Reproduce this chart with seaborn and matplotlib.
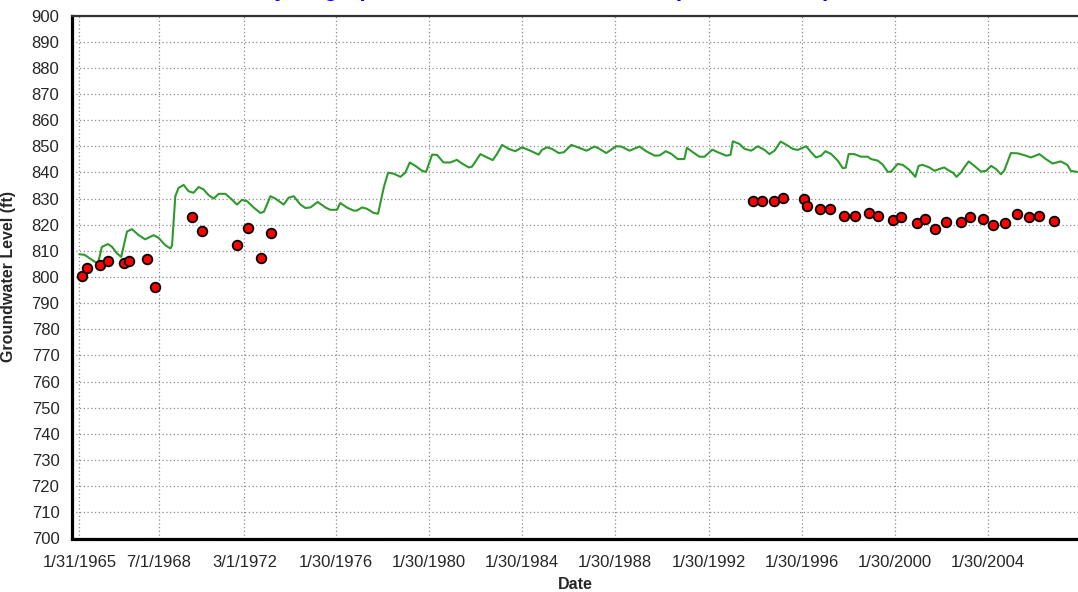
import numpy as np
import pandas as pd
import matplotlib
matplotlib.use("Agg")
import matplotlib.pyplot as plt
import matplotlib.dates as mdates
import seaborn as sns

# simulated head (green line), decimal year / ft
sim_year = [1965.08, 1965.30, 1965.77, 1965.88, 1966.05, 1966.31, 1966.48, 1966.70, 1966.88,
            1967.13, 1967.34, 1967.63, 1967.91, 1968.27, 1968.48, 1968.77, 1968.99, 1969.06,
            1969.20, 1969.34, 1969.56, 1969.77, 1969.98, 1970.20, 1970.41, 1970.63, 1970.85,
            1971.06, 1971.35, 1971.63, 1971.85, 1972.06, 1972.28, 1972.56, 1972.85, 1973.00,
            1973.28, 1973.49, 1973.85, 1974.06, 1974.28, 1974.57, 1974.78, 1975.00, 1975.31,
            1975.64, 1975.85, 1976.14, 1976.28, 1976.56, 1976.85, 1976.99, 1977.21, 1977.42,
            1977.71, 1977.90, 1978.14, 1978.33, 1978.57, 1978.86, 1979.07, 1979.26, 1979.50,
            1979.79, 1979.96, 1980.22, 1980.43, 1980.71, 1981.00, 1981.28, 1981.50, 1981.79,
            1981.93, 1982.29, 1982.58, 1982.82, 1983.00, 1983.22, 1983.50, 1983.79, 1984.08,
            1984.43, 1984.79, 1984.93, 1985.15, 1985.36, 1985.65, 1985.87, 1986.19, 1986.47,
            1986.84, 1987.19, 1987.40, 1987.69, 1988.12, 1988.33, 1988.69, 1989.12, 1989.40,
            1989.77, 1989.98, 1990.24, 1990.48, 1990.76, 1991.04, 1991.15, 1991.41, 1991.69,
            1991.91, 1992.24, 1992.48, 1992.84, 1993.02, 1993.12, 1993.40, 1993.62, 1993.91,
            1994.19, 1994.48, 1994.69, 1994.91, 1995.17, 1995.41, 1995.69, 1995.91, 1996.27,
            1996.48, 1996.69, 1996.91, 1997.09, 1997.33, 1997.62, 1997.84, 1997.96, 1998.09,
            1998.33, 1998.62, 1998.91, 1999.05, 1999.34, 1999.55, 1999.77, 1999.91, 2000.19,
            2000.41, 2000.69, 2000.95, 2001.09, 2001.26, 2001.55, 2001.77, 2001.98, 2002.19,
            2002.41, 2002.55, 2002.72, 2002.91, 2003.05, 2003.24, 2003.48, 2003.77, 2003.99,
            2004.20, 2004.41, 2004.62, 2004.76, 2005.05, 2005.34, 2005.62, 2005.91, 2006.27,
            2006.55, 2006.84, 2007.19, 2007.47, 2007.62, 2007.89]
sim_head = [808.7, 808.5, 805.7, 805.2, 811.5, 812.6, 811.6, 809.0, 807.7,
            817.4, 818.3, 816.0, 814.4, 816.0, 815.0, 812.2, 810.9, 812.0,
            830.9, 834.1, 835.2, 832.8, 832.2, 834.4, 833.5, 831.3, 830.0,
            831.8, 831.8, 829.6, 827.7, 829.5, 829.0, 826.6, 824.5, 824.9,
            830.9, 830.0, 827.7, 830.3, 830.9, 827.7, 826.4, 826.6, 828.7,
            826.6, 825.7, 825.7, 828.3, 826.6, 825.4, 825.4, 826.6, 826.1,
            824.5, 824.2, 834.1, 839.9, 839.5, 838.3, 839.9, 843.8, 842.5,
            840.6, 840.2, 846.8, 846.7, 843.8, 843.8, 844.8, 843.4, 841.9,
            842.2, 847.0, 845.7, 844.7, 847.0, 850.5, 849.0, 848.1, 849.6,
            848.3, 846.8, 848.6, 849.6, 849.0, 847.4, 847.7, 850.5, 849.6,
            848.3, 849.9, 849.0, 847.4, 850.0, 849.9, 848.3, 849.9, 848.1,
            846.4, 846.5, 848.1, 847.1, 845.1, 845.1, 849.4, 847.7, 846.0,
            846.0, 848.7, 847.7, 846.4, 846.7, 851.9, 850.9, 849.0, 848.3,
            850.0, 848.6, 847.0, 848.3, 851.8, 850.6, 849.0, 848.6, 850.0,
            847.7, 845.7, 846.4, 848.1, 847.1, 844.5, 841.6, 841.8, 847.0,
            847.0, 846.0, 846.0, 845.1, 844.5, 843.0, 840.2, 840.3, 843.2,
            842.9, 841.0, 838.3, 842.5, 842.9, 841.9, 840.6, 841.3, 841.9,
            840.6, 840.0, 838.3, 840.0, 841.9, 844.2, 842.5, 840.3, 840.6,
            842.5, 841.3, 839.3, 840.6, 847.4, 847.3, 846.6, 845.7, 847.0,
            845.1, 843.4, 844.2, 842.9, 840.6, 840.2]

# observed head (red points)
obs_year = [1965.19, 1965.41, 1965.98, 1966.31, 1966.98, 1967.20, 1967.97, 1968.31,
            1969.90, 1970.33, 1971.83, 1972.33, 1972.88, 1973.29,
            1993.98, 1994.38, 1994.88, 1995.28, 1996.18, 1996.32, 1996.88, 1997.29,
            1997.91, 1998.38, 1998.95, 1999.37, 2000.00, 2000.34, 2001.02, 2001.38,
            2001.78, 2002.27, 2002.89, 2003.31, 2003.87, 2004.27, 2004.81, 2005.32,
            2005.81, 2006.27, 2006.92]
obs_head = [800.3, 803.5, 804.7, 806.0, 805.5, 806.1, 806.8, 796.2,
            822.8, 817.4, 812.3, 818.6, 807.4, 816.7,
            829.1, 829.1, 829.1, 830.4, 829.7, 827.3, 826.0, 826.0,
            823.5, 823.5, 824.3, 823.5, 821.7, 822.9, 820.5, 822.3,
            818.5, 821.1, 821.2, 822.9, 822.3, 819.7, 820.5, 824.2,
            822.8, 823.4, 821.6]

tick_dates = ["1965-01-31", "1968-07-01", "1972-03-01", "1976-01-30", "1980-01-30",
              "1984-01-30", "1988-01-30", "1992-01-30", "1996-01-30", "2000-01-30",
              "2004-01-30"]
tick_labels = ["1/31/1965", "7/1/1968", "3/1/1972", "1/30/1976", "1/30/1980",
               "1/30/1984", "1/30/1988", "1/30/1992", "1/30/1996", "1/30/2000",
               "1/30/2004"]


def to_date(y):
    y = np.asarray(y, dtype=float)
    yr = np.floor(y).astype(int)
    return pd.to_datetime([f"{a}-01-01" for a in yr]) + pd.to_timedelta((y - yr) * 365.25, unit="D")


sim = pd.DataFrame({"date": to_date(sim_year), "head": sim_head})
obs = pd.DataFrame({"date": to_date(obs_year), "head": obs_head})

sns.set_style("white")
plt.rcParams["font.family"] = ["Liberation Sans", "DejaVu Sans"]

fig = plt.figure(figsize=(10.78, 5.92), dpi=100)
ax = fig.add_axes([72 / 1078, 1 - 538.5 / 592, 1 - 72 / 1078, 523 / 592])

sns.lineplot(data=sim, x="date", y="head", color="#2e9a2e", linewidth=1.5, ax=ax, zorder=3)
sns.scatterplot(data=obs, x="date", y="head", color="#ff0000", edgecolor="black",
                linewidth=1.3, s=48, ax=ax, zorder=4)

ax.set_ylim(700, 900)
ax.set_xlim(to_date([1964.77])[0], to_date([2007.93])[0])

ticks = pd.to_datetime(tick_dates)
ax.set_xticks(ticks)
ax.set_xticklabels(tick_labels)
tn = mdates.date2num(ticks)
minor = []
for a, b in zip(tn[:-1], tn[1:]):
    minor += [a + (b - a) * k / 4 for k in (1, 2, 3)]
step = (tn[1] - tn[0]) / 4
minor += [tn[-1] + step * k for k in (1, 2, 3, 4)]
ax.set_xticks(minor, minor=True)

ax.set_yticks(np.arange(700, 901, 10))
ax.set_yticks(np.arange(700, 901, 2), minor=True)

ax.grid(True, which="major", color="#8c8c8c", linestyle=(0, (1, 2)), linewidth=0.9)
ax.tick_params(axis="both", which="major", direction="out", length=5, width=1,
               color="#555555", labelsize=12, pad=4)
ax.tick_params(axis="both", which="minor", direction="out", length=4, width=1,
               color="#777777")
ax.tick_params(axis="x", which="major", pad=7)

for s in ("left", "bottom"):
    ax.spines[s].set_color("black")
    ax.spines[s].set_linewidth(2.3)
ax.spines["top"].set_color("#333333")
ax.spines["top"].set_linewidth(1.6)
ax.spines["right"].set_visible(False)

ax.set_xlabel("Date", fontsize=11.5, fontweight="bold")
ax.set_ylabel("Groundwater Level (ft)", fontsize=11.5, fontweight="bold")
ax.xaxis.set_label_coords(0.5, -0.073)
ax.yaxis.set_label_coords(-0.056, 0.5)

# title is clipped by the top edge in the source picture
fig.text(0.505, 1.0075, "Hydrograph - Simulated vs. Observed (Well 3160208)",
         color="#0000ff", fontsize=16.5, fontweight="bold", ha="center", va="baseline")

fig.savefig("out.png", dpi=100)
